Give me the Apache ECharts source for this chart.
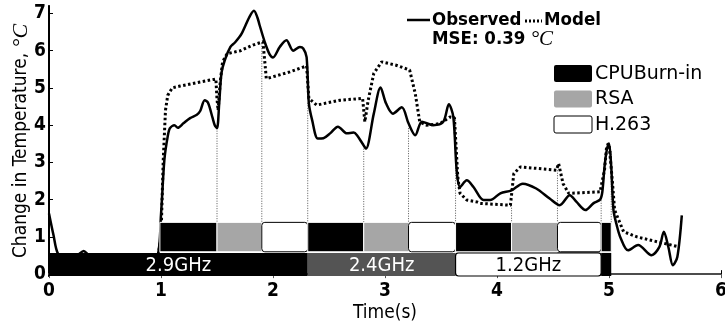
<!DOCTYPE html>
<html>
<head>
<meta charset="utf-8">
<script src="https://cdn.jsdelivr.net/npm/echarts@6/dist/echarts.min.js"></script>
<style>
  html, body { margin: 0; padding: 0; background: #fff; }
  #chart { width: 725px; height: 327px; }
</style>
</head>
<body>
<div id="chart"></div>
<script>
// ---- data ----
const xTicks = [0, 1, 2, 3, 4, 5, 6];
const yTicks = [0, 1, 2, 3, 4, 5, 6, 7];

// measured temperature change [time s, delta °C]
const observed = [
  [0.00, 1.63], [0.04, 1.05], [0.08, 0.55], [0.15, 0.45], [0.25, 0.50], [0.31, 0.62],
  [0.36, 0.50], [0.50, 0.45], [0.70, 0.45], [0.90, 0.45], [0.97, 0.50], [1.00, 1.60],
  [1.03, 3.06], [1.06, 3.70], [1.08, 3.92], [1.12, 4.00], [1.15, 3.93], [1.20, 4.05],
  [1.26, 4.19], [1.32, 4.28], [1.35, 4.38], [1.39, 4.67], [1.42, 4.60], [1.46, 4.20],
  [1.48, 4.00], [1.50, 3.92], [1.52, 4.60], [1.54, 5.40], [1.57, 5.75], [1.62, 6.10],
  [1.66, 6.22], [1.72, 6.46], [1.79, 6.91], [1.83, 7.07], [1.86, 6.90], [1.88, 6.69],
  [1.93, 6.20], [1.97, 5.90], [2.00, 5.82], [2.06, 6.10], [2.12, 6.28], [2.18, 6.00],
  [2.24, 6.10], [2.27, 6.06], [2.30, 5.83], [2.32, 4.59], [2.35, 4.13], [2.40, 3.64],
  [2.45, 3.65], [2.51, 3.78], [2.58, 3.96], [2.66, 3.78], [2.72, 3.80], [2.75, 3.73],
  [2.80, 3.50], [2.83, 3.37], [2.90, 4.31], [2.96, 5.01], [3.01, 4.58], [3.07, 4.31],
  [3.15, 4.48], [3.21, 4.05], [3.27, 3.73], [3.33, 4.09], [3.43, 4.00], [3.52, 4.09],
  [3.57, 4.56], [3.61, 4.22], [3.64, 2.79], [3.67, 2.34], [3.73, 2.52], [3.79, 2.34],
  [3.88, 1.99], [3.94, 1.99], [4.03, 2.17], [4.13, 2.25], [4.23, 2.43], [4.35, 2.30],
  [4.47, 2.03], [4.56, 1.85], [4.65, 2.12], [4.71, 1.94], [4.79, 1.72], [4.86, 1.90],
  [4.92, 2.00], [4.94, 2.20], [4.96, 2.88], [4.98, 3.33], [5.00, 3.51], [5.02, 2.88],
  [5.04, 1.72], [5.07, 1.30], [5.10, 1.00], [5.17, 0.64], [5.26, 0.78], [5.38, 0.51],
  [5.45, 0.73], [5.49, 1.14], [5.53, 0.73], [5.57, 0.24], [5.61, 0.46], [5.65, 1.58]
];

// model prediction [time s, delta °C]
const model = [
  [0.00, 0.02], [0.50, 0.00], [0.95, 0.02], [1.00, 1.00], [1.02, 3.06], [1.04, 4.40],
  [1.06, 4.80], [1.10, 5.00], [1.17, 5.05], [1.35, 5.16], [1.49, 5.24], [1.50, 4.70],
  [1.51, 4.40], [1.53, 5.20], [1.55, 5.70], [1.59, 5.92], [1.71, 6.00], [1.82, 6.15],
  [1.91, 6.24], [1.93, 5.60], [1.94, 5.25], [2.00, 5.30], [2.15, 5.43], [2.30, 5.59],
  [2.32, 4.72], [2.39, 4.54], [2.60, 4.67], [2.80, 4.72], [2.82, 4.09], [2.85, 4.67],
  [2.90, 5.39], [2.97, 5.70], [3.10, 5.61], [3.22, 5.48], [3.27, 4.85], [3.31, 4.09],
  [3.37, 4.00], [3.49, 4.04], [3.58, 4.22], [3.62, 4.20], [3.65, 2.60], [3.67, 2.17],
  [3.73, 1.99], [3.82, 1.94], [3.85, 1.90], [4.12, 1.85], [4.15, 2.70], [4.21, 2.88],
  [4.53, 2.79], [4.55, 2.97], [4.59, 2.43], [4.64, 2.17], [4.92, 2.21], [4.96, 2.80],
  [4.98, 3.46], [5.00, 3.50], [5.03, 2.50], [5.05, 1.72], [5.13, 1.14], [5.25, 1.00],
  [5.43, 0.87], [5.63, 0.73]
];

// CPU frequency phases
const freqStart = [0.00, 2.31, 3.63, 4.93];
const freqEnd   = [2.31, 3.63, 4.93, 5.02];
const freqName  = ['2.9GHz', '2.4GHz', '1.2GHz', ''];
const freqLevel = ['high', 'mid', 'low', 'high'];

// workload phases
const taskStart = [0.99, 1.50, 1.90, 2.31, 2.81, 3.21, 3.63, 4.13, 4.54, 4.93];
const taskEnd   = [1.50, 1.90, 2.31, 2.81, 3.21, 3.63, 4.13, 4.54, 4.93, 5.02];
const taskName  = ['CPUBurn-in', 'RSA', 'H.263', 'CPUBurn-in', 'RSA', 'H.263',
                   'CPUBurn-in', 'RSA', 'H.263', 'CPUBurn-in'];
// height reached by the phase-boundary guide at each task end
const guideTop  = [3.92, 6.20, 4.60, 3.37, 3.92, 4.20, 1.85, 2.79, 2.05, 3.30];

const taskKinds = ['CPUBurn-in', 'RSA', 'H.263'];
const mseValue = 0.39;

// ---- styling ----
const NARROW = '"DejaVu Sans Condensed", "Liberation Sans Narrow", "DejaVu Sans", sans-serif';
const WIDE = '"DejaVu Sans", "Liberation Sans", sans-serif';
const SERIF = '"Liberation Serif", "DejaVu Serif", serif';
const taskFill = { 'CPUBurn-in': '#000000', 'RSA': '#a6a6a6', 'H.263': '#ffffff' };
const freqFill = { high: '#000000', mid: '#545454', low: '#ffffff' };
const Y_MIN = -0.05, Y_MAX = 7.2;
const BAND_LOW = Y_MIN, BAND_HIGH = 0.57;
const TASK_LOW = 0.6, TASK_HIGH = 1.39;

function blockShape(api, x0, x1, y0, y1) {
  const a = api.coord([x0, y1]);
  const b = api.coord([x1, y0]);
  return { x: a[0], y: a[1], width: b[0] - a[0], height: b[1] - a[1] };
}

const chart = echarts.init(document.getElementById('chart'), null, { renderer: 'canvas' });

chart.setOption({
  animation: false,
  backgroundColor: '#ffffff',
  grid: { left: 49, right: 4, top: 6, bottom: 51, containLabel: false, outerBoundsMode: 'none' },
  xAxis: [
    {
      type: 'value', min: xTicks[0], max: xTicks[xTicks.length - 1], interval: 1,
      position: 'bottom',
      axisLine: { lineStyle: { color: '#000', width: 2 } },
      axisTick: { inside: true, length: 4, lineStyle: { color: '#000', width: 1 } },
      axisLabel: { color: '#000', fontSize: 19, fontWeight: 'bold', fontFamily: NARROW, margin: 6 },
      splitLine: { show: false },
      name: 'Time(s)', nameLocation: 'middle', nameGap: 28, nameMoveOverlap: false,
      nameTextStyle: { color: '#000', fontSize: 19, fontFamily: NARROW }
    },
    {
      type: 'value', min: xTicks[0], max: xTicks[xTicks.length - 1], interval: 1,
      position: 'top',
      axisLine: { lineStyle: { color: '#666', width: 1.5 } },
      axisTick: { inside: true, length: 4, lineStyle: { color: '#555', width: 1 } },
      axisLabel: { show: false },
      splitLine: { show: false }
    }
  ],
  yAxis: [
    {
      type: 'value', min: Y_MIN, max: Y_MAX,
      axisLine: { show: true, lineStyle: { color: '#000', width: 2 } },
      axisTick: { inside: true, length: 4, customValues: yTicks, lineStyle: { color: '#000', width: 1 } },
      axisLabel: { color: '#000', fontSize: 19, fontWeight: 'bold', fontFamily: NARROW, margin: 3, customValues: yTicks },
      splitLine: { show: false },
      name: '{a|Change in Temperature, }{b|°C}',
      nameLocation: 'middle', nameRotate: 90, nameGap: 17, nameMoveOverlap: false,
      nameTextStyle: {
        rich: {
          a: { color: '#000', fontSize: 19, fontFamily: NARROW },
          b: { color: '#000', fontSize: 22, fontFamily: SERIF, fontStyle: 'italic' }
        }
      }
    },
    {
      type: 'value', min: Y_MIN, max: Y_MAX, position: 'right',
      axisLine: { show: true, lineStyle: { color: '#000', width: 1.5 } },
      axisTick: { show: false }, axisLabel: { show: false }, splitLine: { show: false }
    }
  ],
  series: [
    {
      name: 'guides', type: 'custom', z: 1, silent: true,
      data: taskEnd.map((t, i) => [t, guideTop[i]]),
      renderItem: (params, api) => {
        const top = api.coord([api.value(0), api.value(1)]);
        const bot = api.coord([api.value(0), TASK_HIGH]);
        return {
          type: 'line',
          shape: { x1: top[0], y1: top[1], x2: bot[0], y2: bot[1] },
          style: { stroke: '#555', lineWidth: 1, lineDash: [1, 1.5] }
        };
      }
    },
    {
      name: 'Model', type: 'line', z: 2, data: model,
      showSymbol: false, smooth: false,
      lineStyle: { color: '#000', width: 3, type: [2.5, 2.5], cap: 'butt' }
    },
    {
      name: 'Observed', type: 'line', z: 3, data: observed,
      showSymbol: false, smooth: 0.3,
      lineStyle: { color: '#000', width: 2.5 }
    },
    {
      name: 'frequency', type: 'custom', z: 5, silent: true,
      data: freqStart.map((s, i) => [s, freqEnd[i], i]),
      encode: { x: [0, 1] },
      renderItem: (params, api) => {
        const i = api.value(2);
        const shape = blockShape(api, api.value(0), api.value(1), BAND_LOW, BAND_HIGH);
        const fill = freqFill[freqLevel[i]];
        const light = fill === '#ffffff';
        return {
          type: 'group',
          children: [
            {
              type: 'rect', shape: Object.assign({ r: light ? 3 : 0 }, shape),
              style: { fill: fill, stroke: light ? '#000' : null, lineWidth: light ? 1.2 : 0 }
            },
            {
              type: 'text',
              style: {
                text: freqName[i], x: shape.x + shape.width / 2, y: shape.y + shape.height / 2 + 1,
                align: 'center', verticalAlign: 'middle',
                fill: light ? '#000' : '#fff', fontSize: 20, fontFamily: NARROW
              }
            }
          ]
        };
      }
    },
    {
      name: 'tasks', type: 'custom', z: 5, silent: true,
      data: taskStart.map((s, i) => [s, taskEnd[i], i]),
      encode: { x: [0, 1] },
      renderItem: (params, api) => {
        const i = api.value(2);
        const shape = blockShape(api, api.value(0), api.value(1), TASK_LOW, TASK_HIGH);
        const fill = taskFill[taskName[i]];
        const light = fill === '#ffffff';
        return {
          type: 'rect', shape: Object.assign({ r: light ? 3 : 0 }, shape),
          style: { fill: fill, stroke: light ? '#000' : '#fff', lineWidth: 1 }
        };
      }
    }
  ],
  graphic: [
    // line legend
    { type: 'line', shape: { x1: 407, y1: 20, x2: 430, y2: 20 }, style: { stroke: '#000', lineWidth: 2.5 } },
    { type: 'text', x: 432, y: 20, style: { text: 'Observed', fontSize: 18.5, fontWeight: 'bold', fontFamily: NARROW, fill: '#000', verticalAlign: 'middle' } },
    { type: 'line', shape: { x1: 525, y1: 21, x2: 542, y2: 21 }, style: { stroke: '#000', lineWidth: 3, lineDash: [2, 2] } },
    { type: 'text', x: 544, y: 20, style: { text: 'Model', fontSize: 18.5, fontWeight: 'bold', fontFamily: NARROW, fill: '#000', verticalAlign: 'middle' } },
    {
      type: 'text', x: 432, y: 39,
      style: {
        text: '{a|MSE: ' + mseValue.toFixed(2) + '}{b| °C}', verticalAlign: 'middle',
        rich: {
          a: { fontSize: 18.5, fontWeight: 'bold', fontFamily: NARROW, fill: '#000' },
          b: { fontSize: 21, fontFamily: SERIF, fontStyle: 'italic', fill: '#000' }
        }
      }
    },
    // workload legend
    ...taskKinds.flatMap((k, i) => {
      const y = 65 + i * 25.5;
      const light = taskFill[k] === '#ffffff';
      return [
        { type: 'rect', shape: { x: 554, y: y, width: 38, height: 17, r: 2 },
          style: { fill: taskFill[k], stroke: light ? '#000' : null, lineWidth: 1 } },
        { type: 'text', x: 595, y: y + 9,
          style: { text: k, fontSize: 19, fontFamily: WIDE, fill: '#000', verticalAlign: 'middle' } }
      ];
    })
  ]
});
</script>
</body>
</html>
